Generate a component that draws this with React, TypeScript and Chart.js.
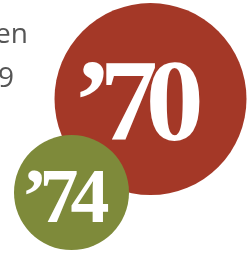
import React, { useEffect, useRef } from "react";
import { Chart, registerables } from "chart.js";

Chart.register(...registerables);

// Data
const yearLabels = ["\u201970", "\u201974"];
const xValues = [60.2, 28.6];
const yValues = [39.0, 75.8];
const rValues = [96, 57.5];
const bubbleColors = ["#A43827", "#7E8A3A"];
const sideTexts = ["en", "9"];

export default function App() {
  const ref = useRef<HTMLCanvasElement | null>(null);
  useEffect(() => {
    document.body.style.margin = "0";
    const canvas = ref.current!;
    const labelPlugin = {
      id: "labels",
      afterDatasetsDraw(chart: any) {
        const ctx = chart.ctx as CanvasRenderingContext2D;
        ctx.save();
        // side text (partially outside view)
        ctx.fillStyle = "#555555";
        ctx.font = "28px 'Open Sans'";
        ctx.textAlign = "right";
        ctx.textBaseline = "alphabetic";
        ctx.fillText(sideTexts[0], 28, 43);
        ctx.fillText(sideTexts[1], 14, 87);
        // bubble labels
        const cfg = [
          { size: 116, dx: -18, dy: 41, ls: -12 },
          { size: 78, dx: -10, dy: 29.5, ls: -8 },
        ];
        chart.data.datasets.forEach((ds: any, i: number) => {
          const el = chart.getDatasetMeta(i).data[0];
          const c = cfg[i];
          ctx.fillStyle = "#ffffff";
          ctx.font = `bold ${c.size}px 'Liberation Serif'`;
          (ctx as any).letterSpacing = `${c.ls}px`;
          ctx.textAlign = "center";
          ctx.fillText(yearLabels[i], el.x + c.dx, el.y + c.dy);
        });
        ctx.restore();
      },
    };
    const chart = new Chart(canvas, {
      type: "bubble",
      data: {
        datasets: yearLabels.map((lab, i) => ({
          label: lab,
          data: [{ x: xValues[i], y: yValues[i], r: rValues[i] }],
          backgroundColor: bubbleColors[i],
          borderWidth: 0,
          hoverRadius: 0,
          clip: false,
          order: yearLabels.length - 1 - i,
        })),
      },
      options: {
        responsive: false,
        animation: false,
        layout: { padding: 0, autoPadding: false },
        plugins: { legend: { display: false }, tooltip: { enabled: false }, title: { display: false } },
        scales: {
          x: { type: "linear", min: 0, max: 100, display: false },
          y: { type: "linear", min: 0, max: 100, reverse: true, display: false },
        },
        events: [],
      },
      plugins: [labelPlugin],
    });
    return () => chart.destroy();
  }, []);
  return (
    <div style={{ position: "absolute", left: 0, top: 0, width: 250, height: 254 }}>
      <canvas ref={ref} width={250} height={254} style={{ display: "block" }} />
    </div>
  );
}
